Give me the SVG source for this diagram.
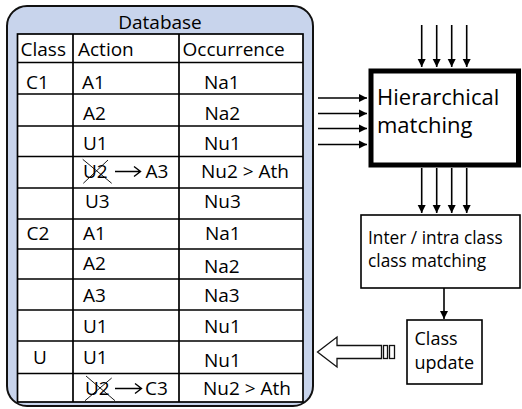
<svg xmlns="http://www.w3.org/2000/svg" width="522" height="409" viewBox="0 0 522 409">
<style>
text{font-family:"Open Sans","Liberation Sans",sans-serif;fill:#000}
.t{font-size:19px}
.grid{stroke:#000;stroke-width:1.7;fill:none}
.con{stroke:#000;stroke-width:1.6;fill:none}
.x{stroke:#000;stroke-width:0.9}
</style>
<defs>
<marker id="ahL" viewBox="0 0 10 10" refX="10" refY="5" markerWidth="8" markerHeight="10" markerUnits="userSpaceOnUse" orient="auto"><path d="M0,0L10,5L0,10z" fill="#000"/></marker>
<marker id="ahD" viewBox="0 0 10 10" refX="10" refY="5" markerWidth="8" markerHeight="13" markerUnits="userSpaceOnUse" orient="auto"><path d="M0,0L10,5L0,10z" fill="#000"/></marker>
<marker id="ahS" viewBox="0 0 10 10" refX="10" refY="5" markerWidth="8" markerHeight="11" markerUnits="userSpaceOnUse" orient="auto"><path d="M0,0L10,5L0,10z" fill="#000"/></marker>
</defs>
<g id="database">
<rect x="7" y="6" width="306" height="400" rx="20" fill="#c8d4ec" stroke="#111" stroke-width="2"/>
<text x="160" y="29" text-anchor="middle" class="t">Database</text>
<rect x="17.5" y="34" width="285.5" height="368" fill="#fff"/>
<g class="grid">
<rect x="17.5" y="34" width="285.5" height="368"/>
<path d="M73,34V402M179,34V402"/>
<path d="M17.5,62.5H303M17.5,94H303M17.5,126H303M17.5,156.5H303M17.5,188H303M17.5,219H303M17.5,249H303M17.5,279H303M17.5,310H303M17.5,341H303M17.5,373.5H303"/>
</g>
<g class="t">
<text x="20.5" y="56" class="t">Class</text><text x="78" y="56" class="t">Action</text><text x="182.5" y="56" class="t">Occurrence</text>
<text x="26" y="89" class="t">C1</text><text x="82" y="89" class="t">A1</text><text x="204" y="89" class="t">Na1</text>
<text x="83" y="120" class="t">A2</text><text x="204.5" y="120" class="t">Na2</text>
<text x="83" y="150" class="t">U1</text><text x="204" y="150" class="t">Nu1</text>
<text x="83" y="178" class="t">U2</text><text x="145.5" y="178" class="t">A3</text><text x="201" y="178" class="t">Nu2 &gt; Ath</text>
<text x="85" y="208" class="t">U3</text><text x="204" y="208" class="t">Nu3</text>
<text x="26.5" y="240" class="t">C2</text><text x="83" y="240" class="t">A1</text><text x="205" y="240" class="t">Na1</text>
<text x="83" y="270" class="t">A2</text><text x="204" y="273" class="t">Na2</text>
<text x="83" y="301.5" class="t">A3</text><text x="204" y="301.5" class="t">Na3</text>
<text x="83" y="333" class="t">U1</text><text x="204" y="333" class="t">Nu1</text>
<text x="33" y="364" class="t">U</text><text x="83" y="364" class="t">U1</text><text x="204" y="366.5" class="t">Nu1</text>
<text x="85" y="395" class="t">U2</text><text x="145" y="395" class="t">C3</text><text x="203" y="395" class="t">Nu2 &gt; Ath</text>
</g>
<path class="x" d="M82.7,159.3L111.7,183.3M83.3,183.3L108,160M86,376L115,400.7M85,400.7L111.7,378"/>
<path d="M115,171.5H140M134,166.5L140.5,171.5L134,176.5M115,388.5H141M135,383.5L141.5,388.5L135,393.5" fill="none" stroke="#000" stroke-width="1.4"/>
</g>
<g id="hierarchical">
<rect x="371" y="71" width="147.5" height="94" fill="#fff" stroke="#000" stroke-width="5"/>
<text x="377" y="104.5" style="font-size:22px">Hierarchical</text>
<text x="377" y="132.5" style="font-size:22px">matching</text>
</g>
<g id="interintra">
<rect x="361" y="215" width="159" height="73" fill="#fff" stroke="#000" stroke-width="1.6"/>
<text x="368" y="243.5" style="font-size:17.3px">Inter / intra class</text>
<text x="368" y="266.5" style="font-size:17.3px">class matching</text>
</g>
<g id="classupdate">
<rect x="407" y="320" width="75" height="64" fill="#fff" stroke="#000" stroke-width="1.6"/>
<text x="414.5" y="345" style="font-size:18px">Class</text>
<text x="414.5" y="369" style="font-size:18px">update</text>
</g>
<g id="connectors">
<path class="con" marker-end="url(#ahL)" d="M318,98H367"/>
<path class="con" marker-end="url(#ahL)" d="M318,113.5H367"/>
<path class="con" marker-end="url(#ahL)" d="M318,128.5H367"/>
<path class="con" marker-end="url(#ahL)" d="M318,144.5H367"/>
<path class="con" marker-end="url(#ahD)" d="M421.7,25V67"/>
<path class="con" marker-end="url(#ahD)" d="M436.7,25V67"/>
<path class="con" marker-end="url(#ahD)" d="M451.7,25V67"/>
<path class="con" marker-end="url(#ahD)" d="M466.7,25V67"/>
<path class="con" marker-end="url(#ahD)" d="M421.7,168V213"/>
<path class="con" marker-end="url(#ahD)" d="M436.7,168V213"/>
<path class="con" marker-end="url(#ahD)" d="M451.7,168V213"/>
<path class="con" marker-end="url(#ahD)" d="M466.7,168V213"/>
<path class="con" marker-end="url(#ahS)" d="M444,288V319"/>
<g fill="#fff" stroke="#111" stroke-width="1.3">
<path d="M317.5,352L337,337V345.5H381.5V358.5H337V367Z"/>
<rect x="383.5" y="345.5" width="4" height="13"/>
<rect x="389.5" y="345.5" width="5" height="13"/>
</g>
</g>
</svg>
